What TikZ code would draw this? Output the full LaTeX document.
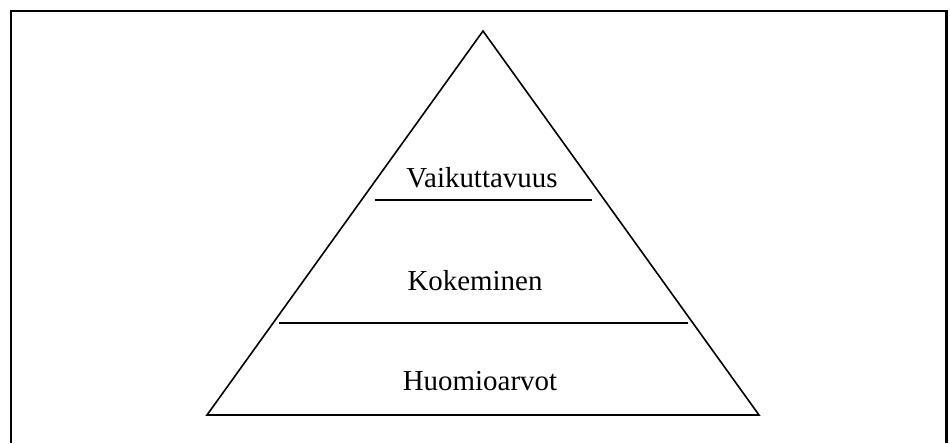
\documentclass[tikz,border=0pt]{standalone}
\usepackage{fontspec}
\setmainfont{Liberation Serif}
\usetikzlibrary{calc,positioning}
\tikzset{frame/.style={line width=1.6pt,draw=black},edge/.style={line width=1.2pt,draw=black},level/.style={font=\fontsize{21.7}{26}\selectfont,anchor=base,inner sep=0pt}}

\begin{document}
\begin{tikzpicture}[x=0.75pt,y=-0.75pt]
      \useasboundingbox (0,0) rectangle (950,443);
      \draw[frame](11,443)--(11,11)--(946.5,11)--(946.5,443);
      \coordinate(apex) at (483,31);
      \coordinate(bl) at (207,415);
      \coordinate(br) at (759,415);
      \draw[edge](bl)--(apex)--(br)--cycle;
      \draw[edge](279,323)--(688,323);
      \draw[edge](375,200)--(592,200);
      \node[level](v) at (482,187){Vaikuttavuus};
      \node[level](k) at (475,290){Kokeminen};
      \node[level](h) at (480,390){Huomioarvot};
    \end{tikzpicture}
\end{document}
